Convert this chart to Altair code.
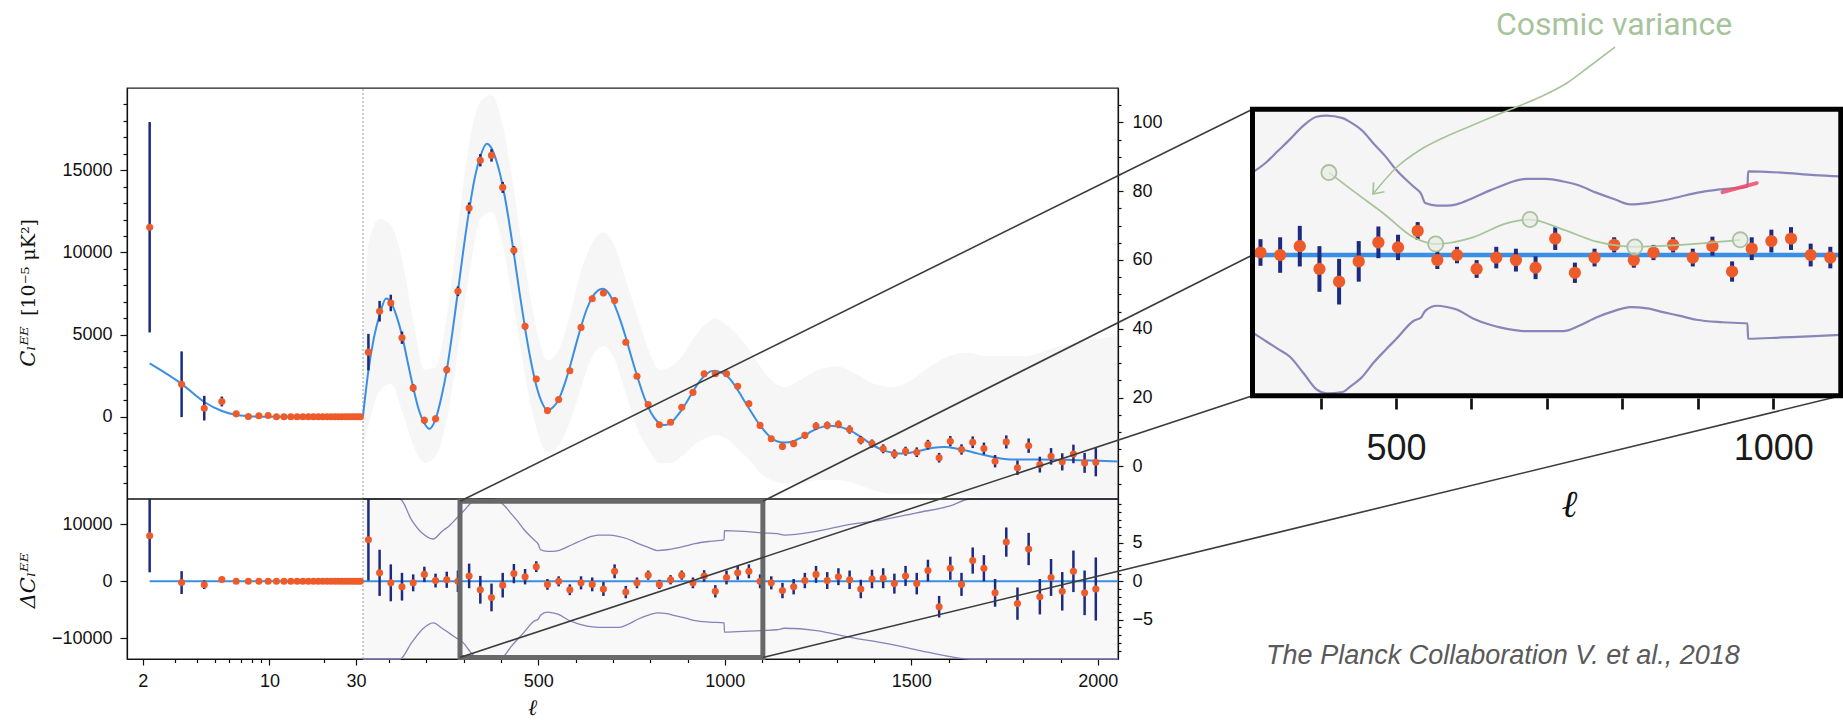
import altair as alt
import pandas as pd

# ================= values =================
# low-ell part (log x axis), left-axis units C_ell^EE [1e-5 muK^2]
ell_low = [2, 3, 4, 5, 6, 7, 8, 9, 10, 11, 12, 13, 14, 15, 16, 17, 18, 19, 20,
           21, 22, 23, 24, 25, 26, 27, 28, 29]
cl_low = [11530, 1980, 525, 930, 180, 20, 60, 80, 0, 0, 0, 0, 0, 0, 0, 0, 0, 0,
          0, 0, 0, 0, 0, 0, 0, 0, 0, 0]
err_low = [6400, 2000, 750, 300, 120, 60, 40, 30, 25, 20, 20, 20, 20, 20, 20, 20,
           20, 20, 20, 20, 20, 20, 20, 20, 20, 20, 20, 20]
res_low = [7965, -230, -600, 300, 0, 0, 0, 0, 0, 0, 0, 0, 0, 0, 0, 0, 0, 0, 0, 0,
           0, 0, 0, 0, 0, 0, 0, 0]
model_low_ell = [2, 3, 4, 5, 6, 7, 8, 10, 15, 20, 30]
model_low = [3250, 2000, 900, 350, 110, 40, 15, 5, 3, 3, 4]

# high-ell binned part (linear x axis), right-axis units
ell_bin = [44.5, 74.5, 104.5, 134.5, 164.5, 194.5, 224.5, 254.5, 284.5, 314.5,
           344.5, 374.5, 404.5, 434.5, 464.5, 494.5, 524.5, 554.5, 584.5, 614.5,
           644.5, 674.5, 704.5, 734.5, 764.5, 794.5, 824.5, 854.5, 884.5, 914.5,
           944.5, 974.5, 1004.5, 1034.5, 1064.5, 1094.5, 1124.5, 1154.5, 1184.5, 1214.5,
           1244.5, 1274.5, 1304.5, 1334.5, 1364.5, 1394.5, 1424.5, 1454.5, 1484.5, 1514.5,
           1544.5, 1574.5, 1604.5, 1634.5, 1664.5, 1694.5, 1724.5, 1754.5, 1784.5, 1814.5,
           1844.5, 1874.5, 1904.5, 1934.5, 1964.5, 1994.5]
dl_bin = [33.2, 45.1, 47.5, 37.4, 22.8, 13.4, 13.8, 28.1, 50.9, 75.1,
          89.0, 90.4, 81.1, 62.8, 40.7, 25.4, 16.2, 19.4, 27.8, 40.4,
          48.7, 50.4, 48.2, 36.1, 26.2, 18.0, 12.1, 12.8, 17.2, 21.5,
          26.9, 26.9, 26.9, 23.3, 18.2, 11.9, 8.0, 5.8, 6.6, 9.0,
          11.7, 11.9, 12.2, 10.7, 7.6, 6.6, 5.1, 3.6, 4.4, 4.1,
          6.3, 2.5, 7.3, 4.9, 7.0, 5.2, 1.5, 7.1, -0.4, 6.0,
          0.5, 2.9, 1.3, 3.6, 1.0, 1.2]
res_bin = [5.4, 1.1, -0.2, -0.7, -0.2, 0.9, 0.1, 0.2, 0.0, 0.7,
           -1.1, -2.1, -0.5, 1.0, 0.6, 1.9, -0.4, 0.0, -1.1, -0.2,
           -0.4, -1.0, 1.3, -1.4, -0.2, 0.8, -0.4, 0.2, 0.8, -0.2,
           0.7, -1.3, 0.5, 1.1, 1.3, 0.0, -0.2, -1.2, -0.7, 0.1,
           0.9, 0.1, 0.6, 0.2, -1.0, 0.3, 0.4, -0.3, 0.7, -0.3,
           1.4, -3.3, 1.7, -0.4, 2.7, 1.7, -1.5, 5.1, -2.9, 4.2,
           -2.0, 0.5, -1.3, 1.3, -1.5, -1.0]
err_bin = [5.3, 3.0, 2.4, 1.8, 1.1, 1.0, 0.9, 1.05, 1.4, 1.6,
           1.8, 1.8, 1.6, 1.25, 1.0, 0.7, 0.7, 0.65, 0.7, 0.85,
           0.9, 0.9, 0.9, 0.8, 0.7, 0.6, 0.6, 0.6, 0.6, 0.7,
           0.75, 0.8, 0.9, 0.9, 0.9, 0.9, 0.85, 1.0, 1.0, 1.0,
           1.1, 1.1, 1.1, 1.2, 1.2, 1.2, 1.3, 1.3, 1.3, 1.4,
           1.4, 1.4, 1.5, 1.5, 1.7, 1.7, 1.8, 1.9, 2.1, 2.1,
           2.3, 2.4, 2.5, 2.7, 2.9, 4.1]
model_ell = [30, 44.5, 59.5, 74.5, 92, 104.5, 119.5, 134.5, 149.5, 164.5,
             179.5, 194.5, 208, 224.5, 239.5, 254.5, 269.5, 284.5, 299.5, 314.5,
             329.5, 344.5, 362, 374.5, 389.5, 404.5, 419.5, 434.5, 449.5, 464.5,
             479.5, 494.5, 509.5, 524, 539.5, 554.5, 569.5, 584.5, 599.5, 614.5,
             629.5, 644.5, 659.5, 672, 689.5, 704.5, 719.5, 734.5, 749.5, 764.5,
             779.5, 794.5, 809.5, 824.5, 838, 854.5, 869.5, 884.5, 899.5, 914.5,
             929.5, 944.5, 962, 974.5, 989.5, 1004.5, 1019.5, 1034.5, 1049.5, 1064.5,
             1079.5, 1094.5, 1109.5, 1124.5, 1139.5, 1160, 1184.5, 1199.5, 1214.5, 1229.5,
             1244.5, 1259.5, 1280, 1304.5, 1319.5, 1334.5, 1349.5, 1364.5, 1379.5, 1394.5,
             1409.5, 1424.5, 1439.5, 1454.5, 1474, 1499.5, 1529.5, 1559.5, 1588, 1619.5,
             1649.5, 1679.5, 1709.5, 1739.5, 1769.5, 1800, 1850, 1900, 1950, 2000, 2054]
model_dl = [14.6, 27.8, 37.5, 44.0, 48.8, 47.7, 43.8, 38.1, 30.5, 23.0,
            16.5, 12.5, 10.9, 13.7, 19.8, 27.9, 38.8, 50.9, 63.2, 74.4,
            83.8, 90.1, 93.8, 92.5, 88.2, 81.6, 72.5, 61.8, 50.6, 40.1,
            30.9, 23.5, 18.6, 16.3, 17.2, 19.4, 23.6, 28.9, 34.8, 40.6,
            45.6, 49.1, 51.1, 51.6, 50.2, 46.9, 42.6, 37.5, 31.8, 26.4,
            21.4, 17.2, 14.3, 12.5, 12.0, 12.6, 14.3, 16.4, 19.0, 21.7,
            24.3, 26.2, 27.6, 27.8, 27.3, 26.4, 24.6, 22.2, 19.5, 16.9,
            14.3, 11.9, 9.9, 8.2, 7.3, 6.9, 7.3, 8.1, 8.9, 10.0,
            10.8, 11.4, 11.8, 11.6, 11.1, 10.5, 9.6, 8.6, 7.4, 6.3,
            5.4, 4.7, 4.2, 3.9, 3.7, 4.0, 4.7, 5.4, 5.6, 5.2,
            4.5, 3.7, 2.9, 2.3, 2.0, 2.0, 2.0, 1.9, 1.8, 1.6, 1.4]

# spread of the unbinned (grey) points in the top panel, right-axis units
scat_ell = [30, 45, 75, 105, 135, 165, 195, 225, 255, 285, 315, 345, 375, 405, 435,
            465, 495, 525, 555, 585, 615, 645, 675, 705, 735, 765, 795, 825, 855, 885,
            915, 945, 975, 1005, 1035, 1065, 1095, 1125, 1160, 1200, 1250, 1300, 1350,
            1400, 1450, 1500, 1550, 1600, 1650, 1700, 1800, 1900, 2054]
scat_lo = [5, 12, 22, 24, 16, 6, 1, 3, 14, 34, 56, 72, 74, 64, 46, 26, 11, 4, 6, 13,
           23, 32, 35, 31, 21, 11, 5, 1, 1, 3, 6, 8, 9, 8, 5, 2, -2, -4, -5, -5,
           -4, -4, -5, -7, -8, -8, -8, -8, -8.5, -9, -9, -9, -9]
scat_hi = [35, 65, 72, 70, 60, 42, 28, 29, 44, 70, 94, 106, 108, 99, 80, 58, 40, 31,
           34, 44, 57, 65, 68, 64, 54, 44, 34, 28, 29, 32, 37, 41, 43, 41, 38, 34,
           29, 25, 23, 25, 28, 29, 27, 24, 23, 25, 29, 32, 33, 32, 32, 35, 38]

# cosmic-variance envelope (purple curves), right-axis units of the residual panel
cv_ell = [30, 100, 129, 160, 190, 218, 242, 263, 281, 299, 320, 340, 355, 380, 391,
          410, 427, 445, 462, 488, 500, 506, 524, 539, 554, 579, 605, 620, 640, 661,
          690, 717, 740, 768, 795, 819, 845, 869, 895, 920, 960, 998, 999, 1050, 1100,
          1140, 1160, 1246, 1336, 1424, 1514, 1604, 1657, 1750, 1850, 2054]
cv_up = [60, 20, 10.8, 8.0, 6.2, 5.5, 6.5, 7.3, 8.2, 9.1, 10.2, 10.9, 11.0, 10.8, 10.5,
         9.8, 8.8, 7.8, 6.7, 5.4, 4.8, 4.1, 3.9, 3.9, 4.0, 4.5, 5.1, 5.4, 5.8, 6.0,
         6.0, 5.8, 5.5, 4.9, 4.4, 4.0, 4.1, 4.3, 4.6, 4.9, 5.2, 5.4, 6.6, 6.5, 6.3,
         6.2, 6.0, 6.5, 7.4, 8.0, 8.9, 9.8, 10.7, 12.0, 13.5, 16.0]
cv_dn = [-60, -20, -10.8, -8.0, -6.2, -5.4, -6.1, -6.8, -7.4, -8.0, -9.3, -10.6, -10.9,
         -10.8, -10.4, -9.6, -8.5, -7.5, -6.6, -5.2, -4.9, -4.4, -4.0, -4.1, -4.3, -5.0,
         -5.5, -5.7, -5.9, -6.0, -6.0, -6.0, -5.6, -4.9, -4.4, -4.1, -4.2, -4.5, -4.8,
         -5.1, -5.3, -5.4, -6.6, -6.5, -6.4, -6.3, -6.1, -6.4, -7.3, -8.0, -8.9, -9.8,
         -10.5, -12.0, -13.5, -16.0]

# hand-drawn annotation inside the inset (inset data units)
ann_ell = [359, 400, 442, 488, 522, 579, 630, 666, 717, 768, 826, 895, 987]
ann_v = [6.5, 4.9, 3.3, 1.4, 0.87, 1.4, 2.5, 2.8, 2.0, 1.05, 0.65, 0.8, 1.2]
circ_ell = [359, 522, 666, 826, 987]
circ_v = [6.5, 0.87, 2.8, 0.63, 1.2]
pen_ell = [960, 1012]
pen_v = [4.96, 5.67]

# ticks
tl_major = [0, 5000, 10000, 15000]
tl_minor = [-4000, -3000, -2000, -1000, 1000, 2000, 3000, 4000, 6000, 7000, 8000, 9000,
            11000, 12000, 13000, 14000, 16000, 17000, 18000, 19000]
bl_major = [-10000, 0, 10000]
tr_major = [0, 20, 40, 60, 80, 100]
tr_minor = [-5, 5, 10, 15, 25, 30, 35, 45, 50, 55, 65, 70, 75, 85, 90, 95, 105]
br_major = [-5, 0, 5]
br_minor = [-9, -8, -7, -6, -4, -3, -2, -1, 1, 2, 3, 4, 6, 7, 8, 9, 10]
xlog_major = [2, 10, 30]
xlog_minor = [3, 4, 5, 6, 7, 8, 9, 20]
xlin_major = [500, 1000, 1500, 2000]
xlin_minor = [100, 200, 300, 400, 600, 700, 800, 900, 1100, 1200, 1300, 1400, 1600,
              1700, 1800, 1900]
inset_ticks = [400, 500, 600, 700, 800, 900, 1000]

# ================= layout =================
FIG_W, FIG_H = 1843, 721
PL, PT = 127, 88
W, H = 991, 571
LOGW = 236
TOPH = 411
IN_X = [1125.5, 1713.8]
IN_Y = [307.8, 21.2]

LOG_DOM = [1.5, 30]
LIN_DOM = [30, 2054]
TL_DOM = [-5000, 20000]
TR_DOM = [-9.5, 110]
BL_DOM = [-13600, 14400]
BR_DOM = [-10.1, 10.7]
IN_L_DOM = [242.3, 1140.5]
IN_V_DOM = [-11.1, 11.5]
IN_AX_DOM = [309.8, 1089.5]
BOX_L = [290, 1102]
BOX_V = [-9.9, 10.4]

ORANGE = "#ee5b2b"
NAVY = "#1c2a80"
BLUE = "#3a8ee3"
PURPLE = "#8583b8"
GREEN = "#a6c49c"


def s_log():
    return alt.Scale(type="log", domain=LOG_DOM, range=[0, LOGW], nice=False)


def s_lin():
    return alt.Scale(domain=LIN_DOM, range=[LOGW, W], nice=False, zero=False)


def s_tl():
    return alt.Scale(domain=TL_DOM, range=[TOPH, 0], nice=False, zero=False)


def s_tr():
    return alt.Scale(domain=TR_DOM, range=[TOPH, 0], nice=False, zero=False)


def s_bl():
    return alt.Scale(domain=BL_DOM, range=[H, TOPH], nice=False, zero=False)


def s_br(clamp=False):
    return alt.Scale(domain=BR_DOM, range=[H, TOPH], nice=False, zero=False, clamp=clamp)


def s_inx():
    return alt.Scale(domain=IN_L_DOM, range=IN_X, nice=False, zero=False)


def s_iny(clamp=False):
    return alt.Scale(domain=IN_V_DOM, range=IN_Y, nice=False, zero=False, clamp=clamp)


def s_pgx():
    return alt.Scale(domain=[0, FIG_W], range=[-PL, FIG_W - PL], nice=False, zero=False)


def s_pgy():
    return alt.Scale(domain=[0, FIG_H], range=[-PT, FIG_H - PT], nice=False, zero=False)


def ax(orient, values, size, labels=True, domain=True, **kw):
    base = dict(orient=orient, values=values, tickSize=size, labels=labels,
                domain=domain, grid=False, labelFlush=False, labelOverlap=False,
                format="d", title=None)
    base.update(kw)
    return alt.Axis(**base)


# pixel helpers for leader lines (same mapping as the scales above)
def px_lin(l):
    return PL + LOGW + (l - LIN_DOM[0]) / (LIN_DOM[1] - LIN_DOM[0]) * (W - LOGW)


def py_br(v):
    return PT + H + (v - BR_DOM[0]) / (BR_DOM[1] - BR_DOM[0]) * (TOPH - H)


def px_in(l):
    return PL + IN_X[0] + (l - IN_L_DOM[0]) / (IN_L_DOM[1] - IN_L_DOM[0]) * (IN_X[1] - IN_X[0])


def py_in(v):
    return PT + IN_Y[0] + (v - IN_V_DOM[0]) / (IN_V_DOM[1] - IN_V_DOM[0]) * (IN_Y[1] - IN_Y[0])


# ================= tables =================
df_low = pd.DataFrame({"l": ell_low, "c": cl_low, "e": err_low, "r": res_low})
df_low["c0"] = df_low.c - df_low.e
df_low["c1"] = df_low.c + df_low.e
df_low["r0"] = df_low.r - df_low.e
df_low["r1"] = df_low.r + df_low.e
df_mlow = pd.DataFrame({"l": model_low_ell, "m": model_low})

df_bin = pd.DataFrame({"l": ell_bin, "d": dl_bin, "r": res_bin, "e": err_bin})
df_bin["d0"] = df_bin.d - df_bin.e
df_bin["d1"] = df_bin.d + df_bin.e
df_bin["r0"] = df_bin.r - df_bin.e
df_bin["r1"] = df_bin.r + df_bin.e
df_model = pd.DataFrame({"l": model_ell, "m": model_dl})
df_scat = pd.DataFrame({"l": scat_ell, "lo": scat_lo, "hi": scat_hi})
df_cv = pd.concat([
    pd.DataFrame({"l": cv_ell, "v": cv_up, "side": "up"}),
    pd.DataFrame({"l": cv_ell, "v": cv_dn, "side": "dn"}),
])
df_in = df_bin[(df_bin.l >= IN_L_DOM[0]) & (df_bin.l <= IN_L_DOM[1])]
df_cv_in = df_cv[(df_cv.l >= 240) & (df_cv.l <= 1145)]

layers = []

# faint haze of the unbinned points
layers.append(alt.Chart(df_scat).mark_area(color="#8c8c8c", opacity=0.075, interpolate="monotone").encode(
    x=alt.X("l:Q", scale=s_lin(), axis=None),
    y=alt.Y("lo:Q", scale=s_tr(), axis=None), y2="hi:Q"))
layers.append(alt.Chart(pd.DataFrame({"a": [LIN_DOM[0]], "b": [LIN_DOM[1]], "v0": [BR_DOM[0]], "v1": [BR_DOM[1]]}))
              .mark_rect(color="#8c8c8c", opacity=0.06).encode(
    x=alt.X("a:Q", scale=s_lin(), axis=None), x2="b:Q",
    y=alt.Y("v0:Q", scale=s_br(), axis=None), y2="v1:Q"))

# dotted split at ell = 30
d30 = pd.DataFrame({"l": [30], "t0": [TR_DOM[0]], "t1": [TR_DOM[1]], "b0": [BR_DOM[0]], "b1": [BR_DOM[1]]})
layers.append(alt.Chart(d30).mark_rule(color="#9a9a9a", strokeDash=[2, 2], strokeWidth=1).encode(
    x=alt.X("l:Q", scale=s_lin(), axis=None), y=alt.Y("t0:Q", scale=s_tr(), axis=None), y2="t1:Q"))
layers.append(alt.Chart(d30).mark_rule(color="#9a9a9a", strokeDash=[2, 2], strokeWidth=1).encode(
    x=alt.X("l:Q", scale=s_lin(), axis=None), y=alt.Y("b0:Q", scale=s_br(), axis=None), y2="b1:Q"))

# cosmic variance envelope in the residual panel
layers.append(alt.Chart(df_cv).mark_line(color=PURPLE, strokeWidth=1.3, interpolate="monotone").encode(
    x=alt.X("l:Q", scale=s_lin(), axis=None),
    y=alt.Y("v:Q", scale=s_br(clamp=True), axis=None), detail="side:N"))

# model curves and zero lines
layers.append(alt.Chart(df_mlow).mark_line(color=BLUE, strokeWidth=2, interpolate="monotone").encode(
    x=alt.X("l:Q", scale=s_log(), axis=None), y=alt.Y("m:Q", scale=s_tl(), axis=None)))
layers.append(alt.Chart(df_model).mark_line(color=BLUE, strokeWidth=2, interpolate="monotone").encode(
    x=alt.X("l:Q", scale=s_lin(), axis=None), y=alt.Y("m:Q", scale=s_tr(), axis=None)))
layers.append(alt.Chart(pd.DataFrame({"a": [2], "b": [30], "v": [0]})).mark_rule(color=BLUE, strokeWidth=2).encode(
    x=alt.X("a:Q", scale=s_log(), axis=None), x2="b:Q", y=alt.Y("v:Q", scale=s_bl(), axis=None)))
layers.append(alt.Chart(pd.DataFrame({"a": [LIN_DOM[0]], "b": [LIN_DOM[1]], "v": [0]})).mark_rule(color=BLUE, strokeWidth=2).encode(
    x=alt.X("a:Q", scale=s_lin(), axis=None), x2="b:Q", y=alt.Y("v:Q", scale=s_br(), axis=None)))

# ---- top-left: low ell spectrum
layers.append(alt.Chart(df_low).mark_rule(color=NAVY, strokeWidth=2.5).encode(
    x=alt.X("l:Q", scale=s_log(), axis=None),
    y=alt.Y("c0:Q", scale=s_tl(), axis=ax("left", tl_minor, 4, labels=False, domain=False,
            title="[10⁻⁵ μK²]", titleX=-99, titleY=179, titleAngle=270, titleAlign="center",
            titleBaseline="middle", titleFont="DejaVu Serif", titleFontSize=19,
            titleFontWeight="normal", titleColor="#111")),
    y2="c1:Q"))
layers.append(alt.Chart(df_low).mark_circle(color=ORANGE, size=50, opacity=1).encode(
    x=alt.X("l:Q", scale=s_log(), axis=None),
    y=alt.Y("c:Q", scale=s_tl(), axis=ax("left", tl_major, 7, labelPadding=8,
            title="Cₗᴱᴱ", titleX=-99, titleY=258, titleAngle=270, titleAlign="center",
            titleBaseline="middle", titleFont="DejaVu Serif", titleFontStyle="italic",
            titleFontSize=21, titleFontWeight="normal", titleColor="#111"))))

# ---- bottom-left: low ell residuals
layers.append(alt.Chart(df_low).mark_rule(color=NAVY, strokeWidth=2.5).encode(
    x=alt.X("l:Q", scale=s_log(), axis=ax("bottom", xlog_minor, 3.5, labels=False, domain=False, tickOffset=-7)),
    y=alt.Y("r0:Q", scale=s_bl(), axis=None), y2="r1:Q"))
layers.append(alt.Chart(df_low).mark_circle(color=ORANGE, size=50, opacity=1).encode(
    x=alt.X("l:Q", scale=s_log(), axis=ax("bottom", xlog_major, 6, labelPadding=7, tickOffset=-7)),
    y=alt.Y("r:Q", scale=s_bl(), axis=ax("left", bl_major, 7, labelPadding=8,
            title="ΔCₗᴱᴱ", titleX=-99, titleY=492, titleAngle=270, titleAlign="center",
            titleBaseline="middle", titleFont="DejaVu Serif", titleFontStyle="italic",
            titleFontSize=21, titleFontWeight="normal", titleColor="#111"))))

# ---- top-right: binned spectrum
layers.append(alt.Chart(df_bin).mark_rule(color=NAVY, strokeWidth=2.5).encode(
    x=alt.X("l:Q", scale=s_lin(), axis=None),
    y=alt.Y("d0:Q", scale=s_tr(), axis=ax("right", tr_minor, 3, labels=False, domain=False)),
    y2="d1:Q"))
layers.append(alt.Chart(df_bin).mark_circle(color=ORANGE, size=50, opacity=1).encode(
    x=alt.X("l:Q", scale=s_lin(), axis=None),
    y=alt.Y("d:Q", scale=s_tr(), axis=ax("right", tr_major, 5, labelPadding=9))))

# ---- bottom-right: binned residuals
layers.append(alt.Chart(df_bin).mark_rule(color=NAVY, strokeWidth=2.5).encode(
    x=alt.X("l:Q", scale=s_lin(), axis=ax("bottom", xlin_minor, 3.5, labels=False, domain=False)),
    y=alt.Y("r0:Q", scale=s_br(), axis=ax("right", br_minor, 3, labels=False, domain=False)),
    y2="r1:Q"))
layers.append(alt.Chart(df_bin).mark_circle(color=ORANGE, size=50, opacity=1).encode(
    x=alt.X("l:Q", scale=s_lin(), axis=ax("bottom", xlin_major, 6, labelPadding=7,
            title="ℓ", titleX=405, titleY=48, titleAlign="center", titleBaseline="middle",
            titleFont="DejaVu Serif", titleFontStyle="italic", titleFontSize=22,
            titleFontWeight="normal", titleColor="#111")),
    y=alt.Y("r:Q", scale=s_br(), axis=ax("right", br_major, 5, labelPadding=9))))

# panel separator
layers.append(alt.Chart(pd.DataFrame({"a": [LOG_DOM[0]], "b": [LOG_DOM[1]], "v": [TL_DOM[0]]})).mark_rule(color="#111", strokeWidth=1.5).encode(
    x=alt.X("a:Q", scale=s_log(), axis=None), x2="b:Q", y=alt.Y("v:Q", scale=s_tl(), axis=None)))
layers.append(alt.Chart(pd.DataFrame({"a": [LIN_DOM[0]], "b": [LIN_DOM[1]], "v": [TR_DOM[0]]})).mark_rule(color="#111", strokeWidth=1.5).encode(
    x=alt.X("a:Q", scale=s_lin(), axis=None), x2="b:Q", y=alt.Y("v:Q", scale=s_tr(), axis=None)))

# grey zoom box
layers.append(alt.Chart(pd.DataFrame({"a": [BOX_L[0]], "b": [BOX_L[1]], "v0": [BOX_V[0]], "v1": [BOX_V[1]]}))
              .mark_rect(fillOpacity=0, stroke="#686868", strokeWidth=5).encode(
    x=alt.X("a:Q", scale=s_lin(), axis=None), x2="b:Q",
    y=alt.Y("v0:Q", scale=s_br(), axis=None), y2="v1:Q"))

# leader lines from the zoom box to the inset
conn = pd.DataFrame({
    "x0": [px_lin(BOX_L[0]), px_lin(BOX_L[1]), px_lin(BOX_L[0]), px_lin(BOX_L[1])],
    "y0": [py_br(BOX_V[1]), py_br(BOX_V[1]), py_br(BOX_V[0]), py_br(BOX_V[0])],
    "x1": [px_in(IN_L_DOM[0]), px_in(IN_L_DOM[0]), px_in(IN_L_DOM[0]), px_in(IN_L_DOM[1])],
    "y1": [py_in(IN_V_DOM[1]), py_in(0), py_in(IN_V_DOM[0]), py_in(IN_V_DOM[0])],
})
layers.append(alt.Chart(conn).mark_rule(color="#3c3c3c", strokeWidth=1.6).encode(
    x=alt.X("x0:Q", scale=s_pgx(), axis=None), x2="x1:Q",
    y=alt.Y("y0:Q", scale=s_pgy(), axis=None), y2="y1:Q"))

# ================= inset =================
layers.append(alt.Chart(pd.DataFrame({"a": [IN_L_DOM[0]], "b": [IN_L_DOM[1]], "v0": [IN_V_DOM[0]], "v1": [IN_V_DOM[1]]}))
              .mark_rect(color="#f5f5f5").encode(
    x=alt.X("a:Q", scale=s_inx(), axis=None), x2="b:Q",
    y=alt.Y("v0:Q", scale=s_iny(), axis=None), y2="v1:Q"))
layers.append(alt.Chart(df_cv_in).mark_line(color="#8886b9", strokeWidth=2.2, interpolate="monotone").encode(
    x=alt.X("l:Q", scale=s_inx(), axis=None),
    y=alt.Y("v:Q", scale=s_iny(clamp=True), axis=None), detail="side:N"))
layers.append(alt.Chart(pd.DataFrame({"a": [IN_L_DOM[0]], "b": [IN_L_DOM[1]], "v": [0]})).mark_rule(color=BLUE, strokeWidth=4.5).encode(
    x=alt.X("a:Q", scale=s_inx(), axis=None), x2="b:Q", y=alt.Y("v:Q", scale=s_iny(), axis=None)))
layers.append(alt.Chart(df_in).mark_rule(color=NAVY, strokeWidth=4).encode(
    x=alt.X("l:Q", scale=s_inx(), axis=None),
    y=alt.Y("r0:Q", scale=s_iny(), axis=None), y2="r1:Q"))
layers.append(alt.Chart(df_in).mark_circle(color=ORANGE, size=150, opacity=1).encode(
    x=alt.X("l:Q", scale=s_inx(), axis=None), y=alt.Y("r:Q", scale=s_iny(), axis=None)))
layers.append(alt.Chart(pd.DataFrame({"l": ann_ell, "v": ann_v})).mark_line(color=GREEN, strokeWidth=1.8, interpolate="monotone").encode(
    x=alt.X("l:Q", scale=s_inx(), axis=None), y=alt.Y("v:Q", scale=s_iny(), axis=None)))
layers.append(alt.Chart(pd.DataFrame({"l": circ_ell, "v": circ_v})).mark_point(
    shape="circle", filled=True, fill="#e7ede3", fillOpacity=0.7, stroke="#a9c0a1", strokeWidth=1.8, size=230, opacity=1).encode(
    x=alt.X("l:Q", scale=s_inx(), axis=None), y=alt.Y("v:Q", scale=s_iny(), axis=None)))
layers.append(alt.Chart(pd.DataFrame({"l": pen_ell, "v": pen_v})).mark_line(color="#ef4a68", strokeWidth=4, strokeCap="round", opacity=0.85).encode(
    x=alt.X("l:Q", scale=s_inx(), axis=None), y=alt.Y("v:Q", scale=s_iny(), axis=None)))
layers.append(alt.Chart(pd.DataFrame({"a": [IN_L_DOM[0]], "b": [IN_L_DOM[1]], "v0": [IN_V_DOM[0]], "v1": [IN_V_DOM[1]]}))
              .mark_rect(fillOpacity=0, stroke="black", strokeWidth=5).encode(
    x=alt.X("a:Q", scale=s_inx(), axis=None), x2="b:Q",
    y=alt.Y("v0:Q", scale=s_iny(), axis=None), y2="v1:Q"))
# inset axis (ticks of the magnified picture)
layers.append(alt.Chart(pd.DataFrame({"l": [500, 1000], "v": [0, 0]})).mark_point(opacity=0).encode(
    x=alt.X("l:Q", scale=alt.Scale(domain=IN_AX_DOM, range=IN_X, nice=False, zero=False),
            axis=ax("bottom", inset_ticks, 11, domain=False, offset=-261, tickWidth=2.7,
                    tickColor="#111", labelFontSize=36, labelPadding=22, labelColor="#1a1a1a",
                    labelExpr="datum.value == 500 || datum.value == 1000 ? datum.label : ''",
                    title="ℓ", titleX=1442, titleY=107, titleAlign="center", titleBaseline="middle",
                    titleFont="DejaVu Serif", titleFontStyle="italic", titleFontSize=38,
                    titleFontWeight="normal", titleColor="#111")),
    y=alt.Y("v:Q", scale=s_iny(), axis=None)))

# ================= annotations (page pixel frame) =================
arrow_x = [1615, 1590, 1567, 1540, 1509, 1473, 1445, 1420, 1397, 1373]
arrow_y = [47, 66, 83, 97, 110, 125, 137, 150, 167, 194]
layers.append(alt.Chart(pd.DataFrame({"x": arrow_x, "y": arrow_y})).mark_line(color=GREEN, strokeWidth=1.6, interpolate="monotone").encode(
    x=alt.X("x:Q", scale=s_pgx(), axis=None), y=alt.Y("y:Q", scale=s_pgy(), axis=None)))
layers.append(alt.Chart(pd.DataFrame({"x": [1373], "y": [194]})).mark_point(
    shape="M -0.7 0.9 L 0 0 L 0.7 0.9", filled=False, size=420, strokeWidth=1.7, color=GREEN, angle=221, opacity=1).encode(
    x=alt.X("x:Q", scale=s_pgx(), axis=None), y=alt.Y("y:Q", scale=s_pgy(), axis=None)))
layers.append(alt.Chart(pd.DataFrame({"x": [1614], "y": [35], "t": ["Cosmic variance"]})).mark_text(
    font="Roboto", fontSize=32, color="#a6c49c", align="center", baseline="alphabetic").encode(
    x=alt.X("x:Q", scale=s_pgx(), axis=None), y=alt.Y("y:Q", scale=s_pgy(), axis=None), text="t:N"))
layers.append(alt.Chart(pd.DataFrame({"x": [1503], "y": [656], "t": ["The Planck Collaboration V. et al., 2018"]})).mark_text(
    font="Liberation Sans", fontStyle="italic", fontSize=27, color="#5a5a5a", align="center", baseline="middle").encode(
    x=alt.X("x:Q", scale=s_pgx(), axis=None), y=alt.Y("y:Q", scale=s_pgy(), axis=None), text="t:N"))

chart = alt.layer(*layers).resolve_scale(x="independent", y="independent").properties(
    width=W, height=H,
    padding={"left": PL, "top": PT, "right": FIG_W - PL - W, "bottom": FIG_H - PT - H},
    autosize=alt.AutoSizeParams(type="none"),
).configure_view(stroke="#222", strokeWidth=1.3).configure_axis(
    labelFont="Liberation Sans", labelFontSize=18, labelColor="#111",
    tickColor="#111", domainColor="#111", domainWidth=1.2, tickWidth=1.2, grid=False,
)

chart.save("out.html", embed_options={"renderer": "svg", "actions": False})
